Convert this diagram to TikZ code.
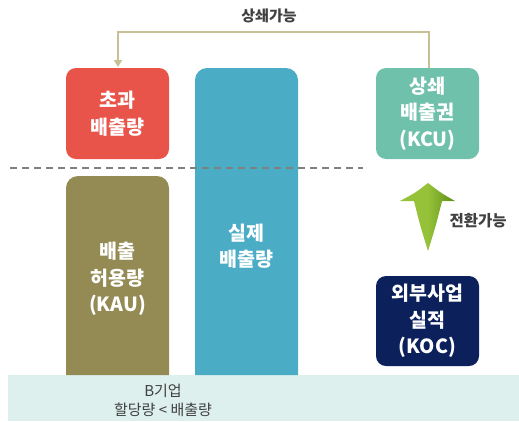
\documentclass[tikz,border=0pt]{standalone}
\usepackage{fontspec}
\setmainfont{Noto Sans CJK KR}
\usetikzlibrary{arrows.meta}
\definecolor{cred}{HTML}{E8534A}
\definecolor{cblue}{HTML}{4BACC6}
\definecolor{cteal}{HTML}{6FC1AC}
\definecolor{colive}{HTML}{948A54}
\definecolor{cnavy}{HTML}{0C215C}
\definecolor{cband}{HTML}{DDF0ED}
\definecolor{ctan}{HTML}{C8BF95}
\definecolor{ctext}{HTML}{404040}
\definecolor{cgreenA}{HTML}{96C23A}
\definecolor{cgreenB}{HTML}{5E8E16}
\tikzset{
  boxtext/.style={text=white, font=\fontsize{19.5}{26.5}\selectfont\bfseries, align=center},
  smalltext/.style={text=ctext, font=\fontsize{15}{19}\selectfont, align=center},
}
\begin{document}
\begin{tikzpicture}[x=1pt,y=-1pt]
\useasboundingbox (0,0) rectangle (519,421);
% bottom band
\fill[cband] (8,375) rectangle (519,421);
\node[smalltext] (band) at (163,400) {B기업\\할당량 < 배출량};
% bars
\fill[colive] (66,375) [rounded corners=12] -- (66,176) -- (169,176) [sharp corners] -- (169,375) -- cycle;
\fill[cblue] (195,375) [rounded corners=12] -- (195,68) -- (298,68) [sharp corners] -- (298,375) -- cycle;
\node[boxtext] (kau) at (117.5,279) {배출\\허용량\\(KAU)};
\node[boxtext] (real) at (246.5,246) {실제\\배출량};
% top boxes
\fill[cred, rounded corners=10] (66,68) rectangle (169,159);
\node[boxtext] (exc) at (117.5,113.5) {초과\\배출량};
\fill[cteal, rounded corners=10] (376,68) rectangle (479,159);
\node[boxtext] (kcu) at (427.5,113.5) {상쇄\\배출권\\(KCU)};
\fill[cnavy, rounded corners=10] (376,276) rectangle (479,366);
\node[boxtext] (koc) at (427.5,321) {외부사업\\실적\\(KOC)};
% dashed line
\draw[gray, line width=1.5pt, dash pattern=on 7pt off 5pt] (10,168) -- (363,168);
% bracket connector
\coordinate (c1) at (429,32);
\coordinate (c2) at (118,32);
\draw[ctan, line width=2pt, -{Triangle[length=7pt,width=8pt]}] (429,68) -- (c1) -- (c2) -- (118,67);
\node[smalltext, font=\fontsize{15}{19}\selectfont\bfseries] (t1) at (269,16) {상쇄가능};
% green arrow
\shade[left color=cgreenA, right color=cgreenB, middle color=cgreenA]
  (400,201) .. controls (415,193) .. (428,183) .. controls (441,193) .. (455,201)
  -- (442,201) .. controls (436,225) .. (428,251) .. controls (420,225) .. (414,201) -- cycle;
\node[smalltext, anchor=west, font=\fontsize{15.5}{19}\selectfont\bfseries] (t2) at (446,221) {전환가능};
\end{tikzpicture}
\end{document}
